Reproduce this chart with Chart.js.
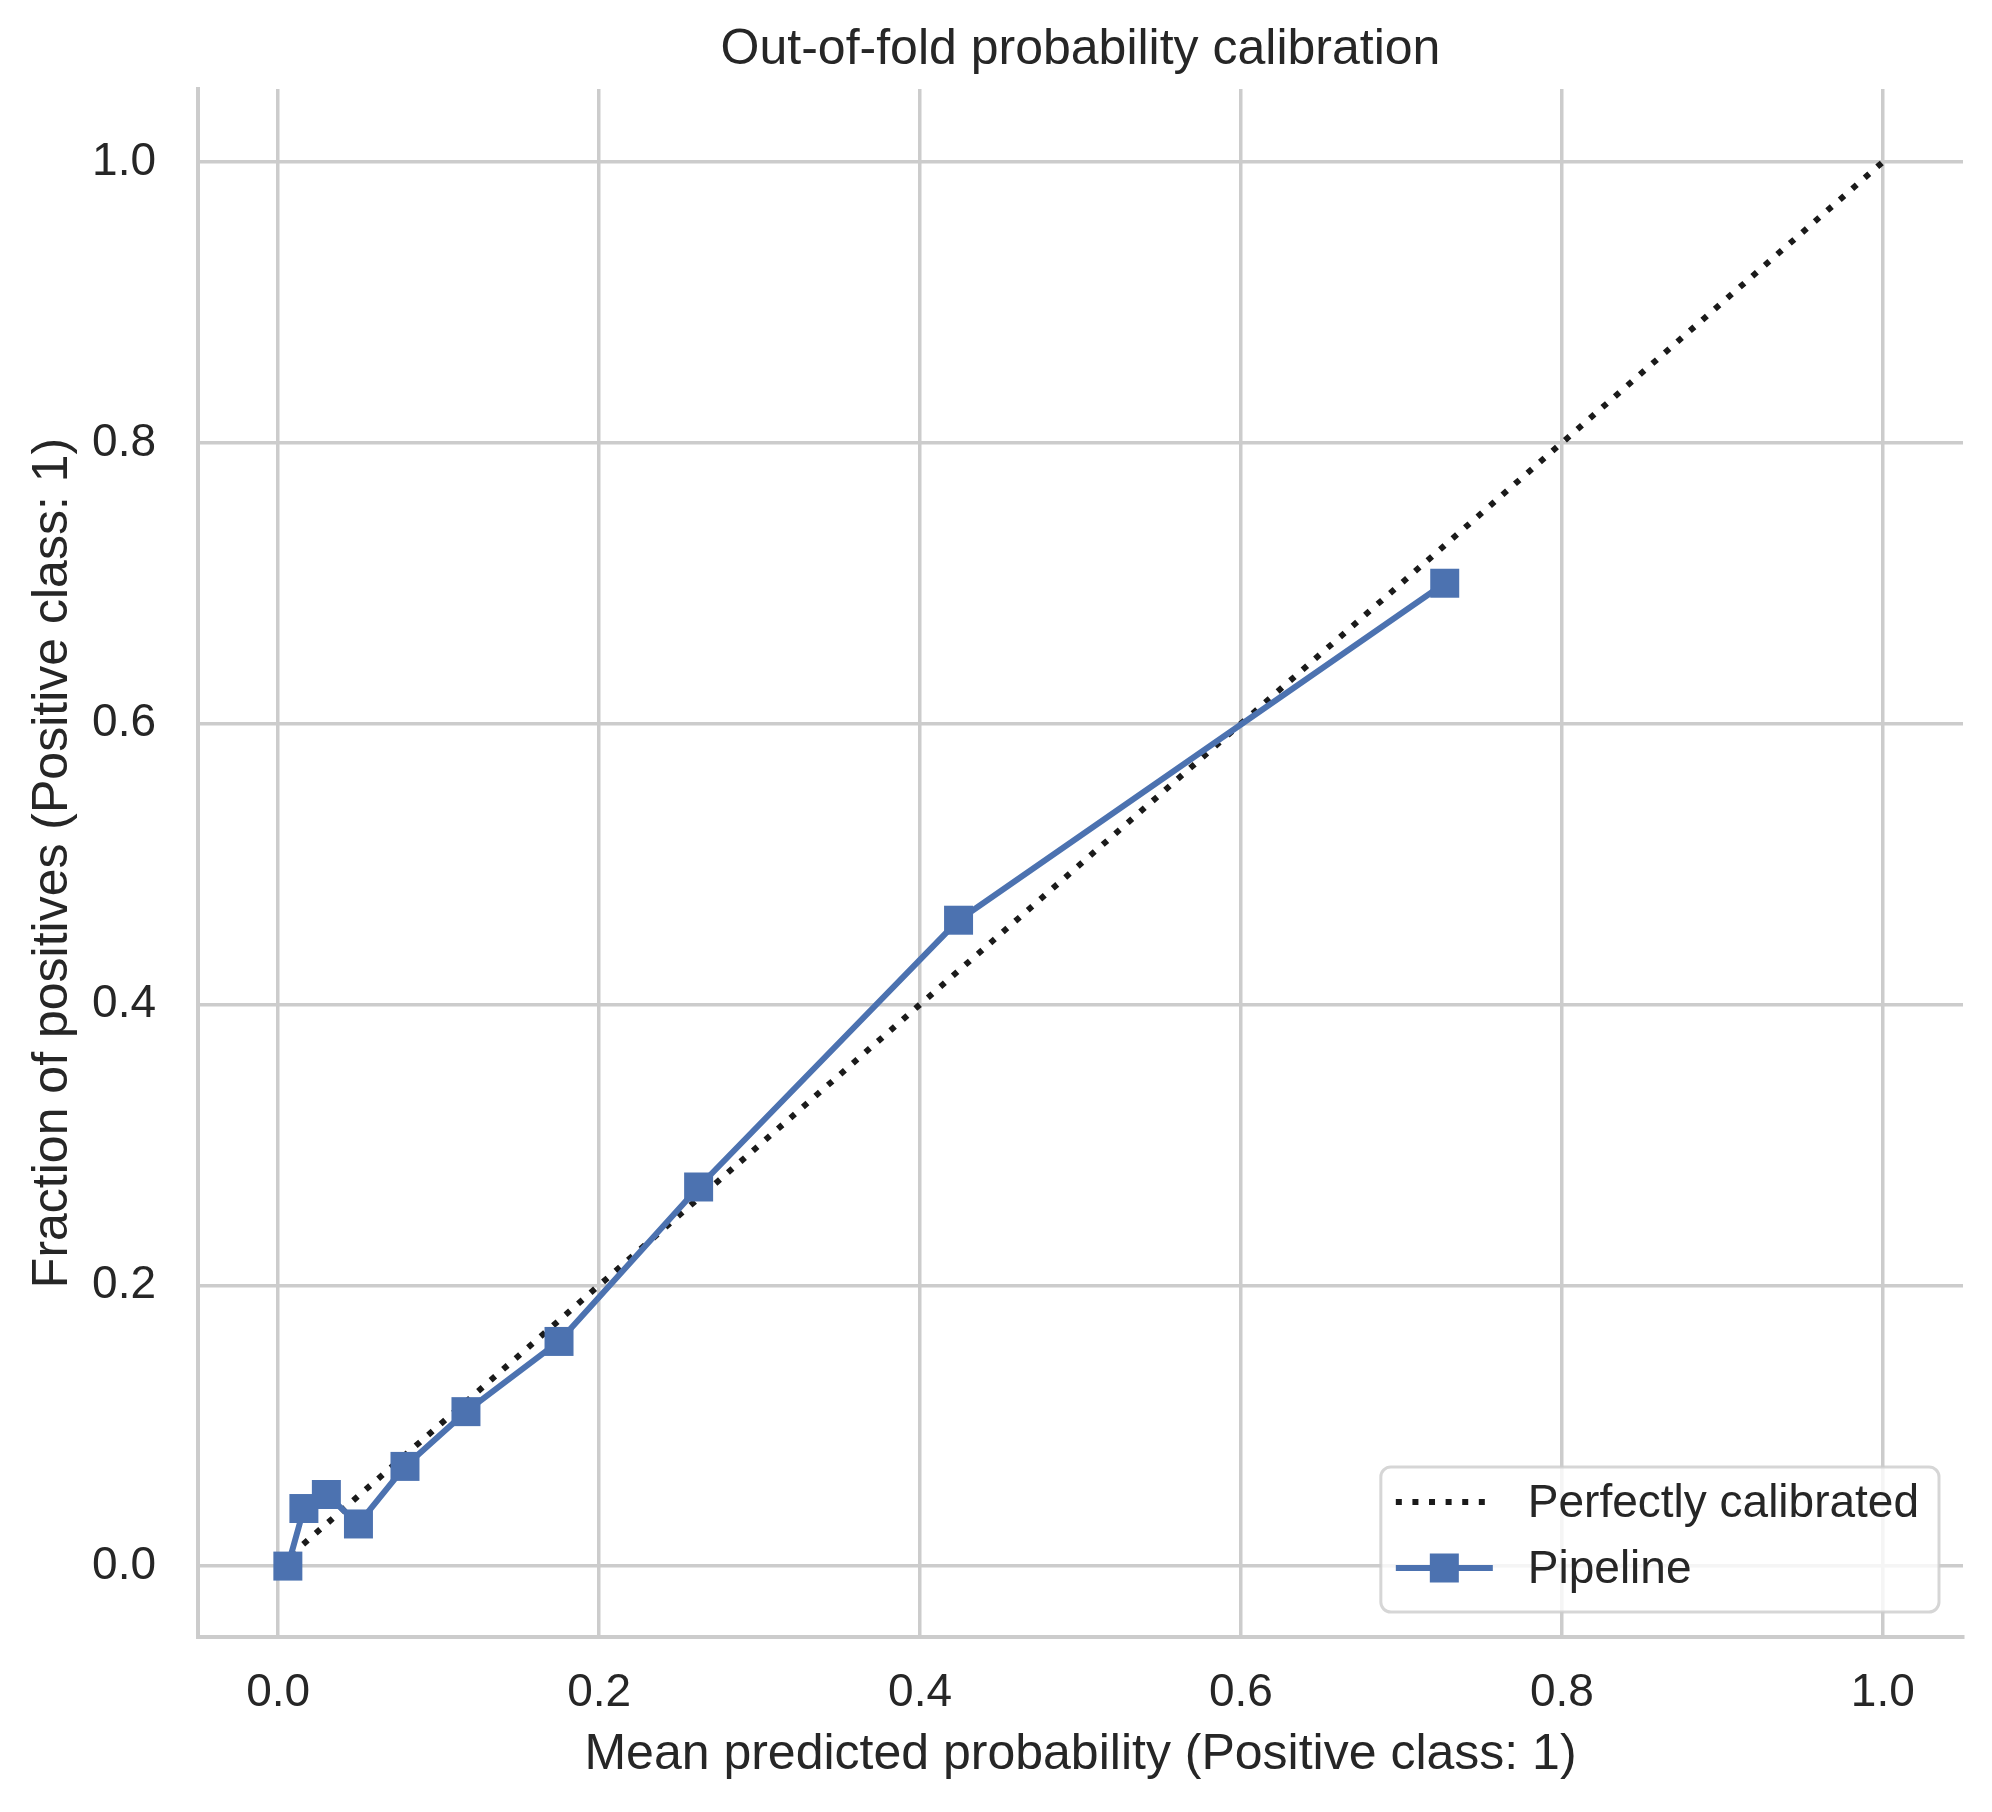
<!DOCTYPE html>
<html lang="en">
  <head>
    <meta charset="UTF-8" />
    <title>Out-of-fold probability calibration</title>
    <style>
      body {
        margin: 0;
        background: #ffffff;
      }
      #wrap {
        width: 1992px;
        height: 1812px;
      }
    </style>
    <script src="https://cdn.jsdelivr.net/npm/chart.js"></script>
  </head>
  <body>
    <div id="wrap"><canvas id="calib"></canvas></div>

    <script>
      // Calibration curve
      const meanPredicted = [0.006, 0.016, 0.030, 0.050, 0.079, 0.117, 0.175, 0.262, 0.424, 0.727];
      const fractionPositives = [0.0, 0.041, 0.051, 0.030, 0.071, 0.110, 0.160, 0.270, 0.460, 0.700];
      // Perfectly calibrated diagonal
      const perfectX = [0, 1];
      const perfectY = [0, 1];
      // Tick labels on both axes
      const xTicks = [0.0, 0.2, 0.4, 0.6, 0.8, 1.0];
      const yTicks = [0.0, 0.2, 0.4, 0.6, 0.8, 1.0];

      const FONT = "'Liberation Sans', Arial, sans-serif";
      const TEXT = "#262626";
      const GRID = "#cccccc";

      const toPoints = (xs, ys) => xs.map((x, i) => ({ x: x, y: ys[i] }));

      // legend box in the lower right corner of the axes, like matplotlib's
      const cornerLegend = {
        id: "cornerLegend",
        afterDraw(chart) {
          const ctx = chart.ctx;
          const area = chart.chartArea;
          const items = chart.data.datasets.slice().sort((a, b) => b.order - a.order);
          ctx.save();
          ctx.font = "46px " + FONT;
          let textW = 0;
          items.forEach((d) => {
            textW = Math.max(textW, ctx.measureText(d.label).width);
          });
          const w = 15 + 97 + 35 + textW + 20;
          const h = 145;
          const x0 = area.right - 24 - w;
          const y0 = area.bottom - 25 - h;

          ctx.beginPath();
          ctx.roundRect(x0, y0, w, h, 10);
          ctx.fillStyle = "rgba(255,255,255,0.8)";
          ctx.fill();
          ctx.lineWidth = 3;
          ctx.strokeStyle = "rgba(204,204,204,0.8)";
          ctx.stroke();

          items.forEach((d, i) => {
            const cy = y0 + 35 + i * 66;
            const hx = x0 + 15;
            ctx.beginPath();
            ctx.setLineDash(d.borderDash || []);
            ctx.lineWidth = d.borderWidth;
            ctx.strokeStyle = d.borderColor;
            ctx.moveTo(hx, cy);
            ctx.lineTo(hx + 97, cy);
            ctx.stroke();
            ctx.setLineDash([]);
            if (d.pointRadius > 0) {
              const s = 29;
              ctx.fillStyle = d.pointBackgroundColor;
              ctx.fillRect(hx + 48.5 - s / 2, cy - s / 2, s, s);
            }
            ctx.fillStyle = TEXT;
            ctx.textAlign = "left";
            ctx.textBaseline = "middle";
            ctx.fillText(d.label, hx + 97 + 35, cy + 2);
          });
          ctx.restore();
        },
      };

      const chart = new Chart(document.getElementById("calib"), {
        type: "line",
        data: {
          datasets: [
            {
              label: "Perfectly calibrated",
              data: toPoints(perfectX, perfectY),
              borderColor: "#1a1a1a",
              borderWidth: 6,
              borderDash: [6, 10.6],
              borderCapStyle: "butt",
              pointRadius: 0,
              fill: false,
              order: 1,
            },
            {
              label: "Pipeline",
              data: toPoints(meanPredicted, fractionPositives),
              borderColor: "#4c72b0",
              borderWidth: 6,
              borderJoinStyle: "round",
              pointStyle: "rect",
              pointRadius: 20.5,
              pointBackgroundColor: "#4c72b0",
              pointBorderWidth: 0,
              fill: false,
              order: 0,
            },
          ],
        },
        options: {
          responsive: true,
          maintainAspectRatio: false,
          animation: false,
          events: [],
          layout: { padding: { left: 0, right: 29, top: 0, bottom: 0 } },
          plugins: {
            legend: { display: false },
            tooltip: { enabled: false },
            title: {
              display: true,
              fullSize: false,
              text: "Out-of-fold probability calibration",
              color: TEXT,
              font: { family: FONT, size: 50, weight: "normal" },
              padding: { top: 20, bottom: 9 },
            },
          },
          scales: {
            x: {
              type: "linear",
              min: -0.05,
              max: 1.05,
              afterBuildTicks: (scale) => {
                scale.ticks = xTicks.map((v) => ({ value: v }));
              },
              afterFit: (scale) => {
                scale.height = 175;
              },
              ticks: {
                color: TEXT,
                font: { family: FONT, size: 46 },
                padding: 29,
                maxRotation: 0,
                callback: (v) => v.toFixed(1),
              },
              grid: { color: GRID, lineWidth: 3.5, drawTicks: false },
              border: { display: true, color: GRID, width: 4 },
              title: {
                display: true,
                text: "Mean predicted probability (Positive class: 1)",
                color: TEXT,
                font: { family: FONT, size: 50 },
                padding: { top: 0, bottom: 27 },
              },
            },
            y: {
              type: "linear",
              min: -0.0505,
              max: 1.052,
              afterBuildTicks: (scale) => {
                scale.ticks = yTicks.map((v) => ({ value: v }));
              },
              afterFit: (scale) => {
                scale.width = 198;
              },
              ticks: {
                color: TEXT,
                font: { family: FONT, size: 46 },
                padding: 42,
                callback: (v) => v.toFixed(1),
              },
              grid: { color: GRID, lineWidth: 3.5, drawTicks: false },
              border: { display: true, color: GRID, width: 4 },
              title: {
                display: true,
                text: "Fraction of positives (Positive class: 1)",
                color: TEXT,
                font: { family: FONT, size: 50 },
                padding: { top: 23, bottom: 0 },
              },
            },
          },
        },
        plugins: [cornerLegend],
      });
    </script>
  </body>
</html>
